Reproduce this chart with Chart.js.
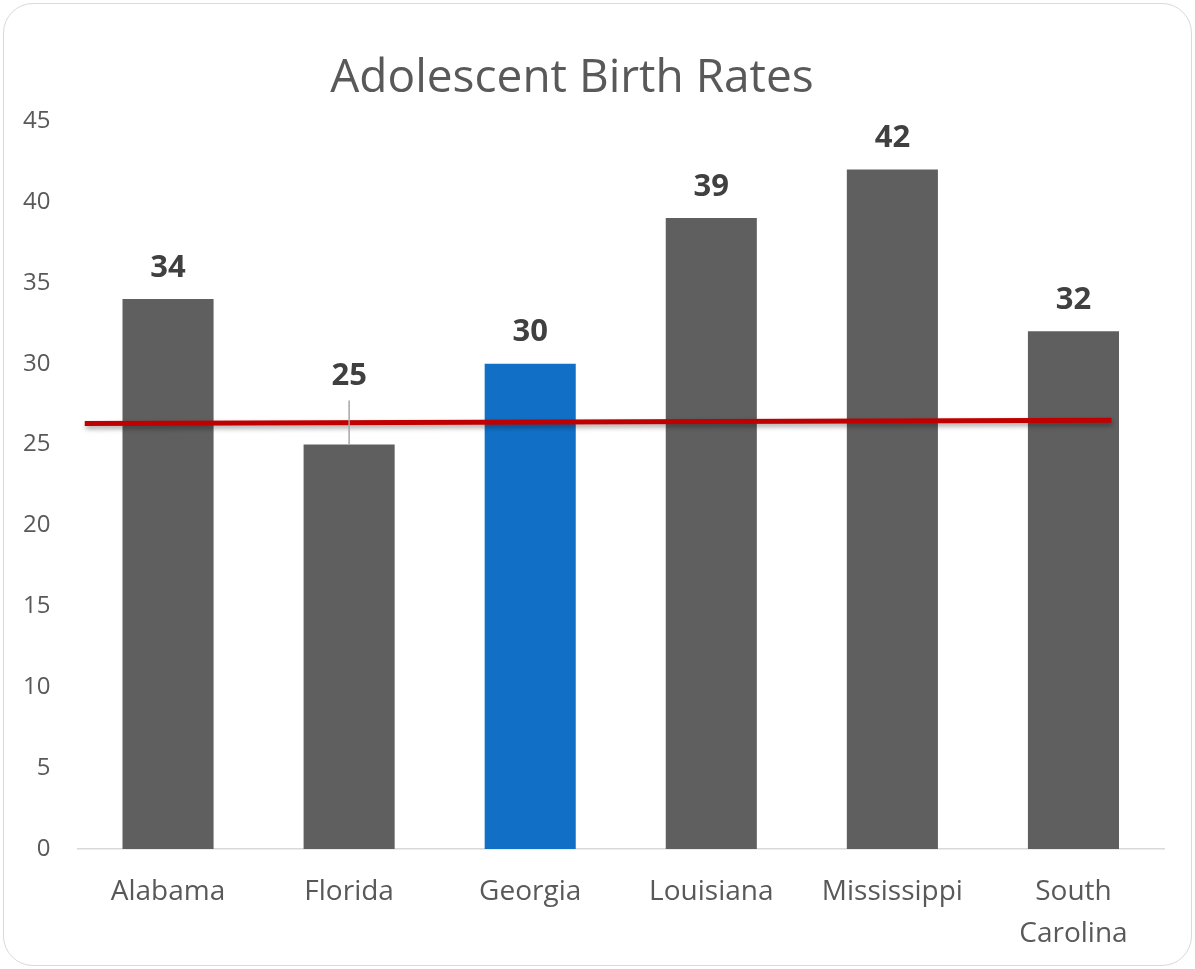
<!DOCTYPE html>
<html>
<head>
<meta charset="utf-8">
<script src="https://cdn.jsdelivr.net/npm/chart.js@4"></script>
<style>
  html, body { margin: 0; padding: 0; background: #fff; }
  #frame {
    position: absolute; left: 3px; top: 3px; width: 1189px; height: 963px;
    border: 1.5px solid #d9d9d9; border-radius: 30px; box-sizing: border-box;
  }
  #wrap { position: absolute; left: 0; top: 0; width: 1195px; height: 969px; }
</style>
</head>
<body>
<div id="frame"></div>
<div id="wrap"><canvas id="myChart" width="1195" height="969"></canvas></div>
<script>
// data
const states = ['Alabama', 'Florida', 'Georgia', 'Louisiana', 'Mississippi', ['South', 'Carolina']];
const rates = [34, 25, 30, 39, 42, 32];
const yTicks = [0, 5, 10, 15, 20, 25, 30, 35, 40, 45];
// red reference line (x in category units, 0 = left edge of plot)
const refLineX = [0.04, 5.71];
const refLineY = [26.3, 26.5];

const grey = '#5f5f5f';
const blue = '#1170c6';
const barColors = states.map((s, i) => i === 2 ? blue : grey);

// extra lift for labels that were moved up (px), with a leader line
const labelLift = { 1: 37 };

const font = "'Open Sans', 'Noto Sans', sans-serif";

const titlePlugin = {
    id: 'titlePlugin',
    afterDraw(chart) {
        const ctx = chart.ctx;
        ctx.save();
        ctx.font = "46px " + font;
        ctx.fillStyle = '#595959';
        ctx.textAlign = 'center';
        ctx.textBaseline = 'middle';
        ctx.fillText('Adolescent Birth Rates', 572, 79);
        ctx.restore();
    }
};

const valueLabels = {
    id: 'valueLabels',
    afterDatasetsDraw(chart) {
        const ctx = chart.ctx;
        const meta = chart.getDatasetMeta(0);
        ctx.save();
        ctx.font = "bold 31px " + font;
        ctx.fillStyle = '#404040';
        ctx.textAlign = 'center';
        ctx.textBaseline = 'middle';
        meta.data.forEach((bar, i) => {
            const lift = labelLift[i] || 0;
            const y = bar.y - 31 - lift;
            ctx.fillText(String(rates[i]), bar.x, y);
            if (lift) {
                ctx.strokeStyle = '#a6a6a6';
                ctx.lineWidth = 1.5;
                ctx.beginPath();
                ctx.moveTo(bar.x, y + 24);
                ctx.lineTo(bar.x, bar.y);
                ctx.stroke();
            }
        });
        ctx.restore();
    }
};

const lineShadow = {
    id: 'lineShadow',
    beforeDatasetDraw(chart, args) {
        if (args.index === 1) {
            const ctx = chart.ctx;
            ctx.save();
            ctx.shadowColor = 'rgba(0,0,0,0.35)';
            ctx.shadowBlur = 5;
            ctx.shadowOffsetY = 3;
            ctx.shadowOffsetX = 1;
        }
    },
    afterDatasetDraw(chart, args) {
        if (args.index === 1) chart.ctx.restore();
    }
};

var ctx = document.getElementById('myChart').getContext('2d');
var myChart = new Chart(ctx, {
    data: {
        labels: states,
        datasets: [{
            type: 'bar',
            data: rates,
            backgroundColor: barColors,
            barPercentage: 0.503,
            categoryPercentage: 1,
            grouped: false,
            order: 2
        }, {
            type: 'line',
            xAxisID: 'xLine',
            data: refLineX.map((x, i) => ({ x: x, y: refLineY[i] })),
            borderColor: '#c00000',
            borderWidth: 5,
            pointRadius: 0,
            order: 1
        }]
    },
    options: {
        responsive: false,
        animation: false,
        layout: { padding: { left: 0, right: 31, top: 121, bottom: 0 } },
        plugins: {
            legend: { display: false },
            tooltip: { enabled: false },
            title: { display: false }
        },
        scales: {
            x: {
                grid: { display: false },
                border: { color: '#d9d9d9', width: 1.5 },
                ticks: { color: '#595959', font: { family: font, size: 28, lineHeight: 1.5 }, padding: 14 },
                afterFit: axis => { axis.height = 120; }
            },
            xLine: {
                type: 'linear',
                display: false,
                min: 0,
                max: 6
            },
            y: {
                min: 0,
                max: 45,
                afterBuildTicks: axis => { axis.ticks = yTicks.map(v => ({ value: v })); },
                grid: { display: false },
                border: { display: false },
                ticks: { color: '#595959', font: { family: font, size: 24 }, padding: 19 },
                afterFit: axis => { axis.width = 77.5; }
            }
        }
    },
    plugins: [valueLabels, lineShadow, titlePlugin]
});
</script>
</body>
</html>
